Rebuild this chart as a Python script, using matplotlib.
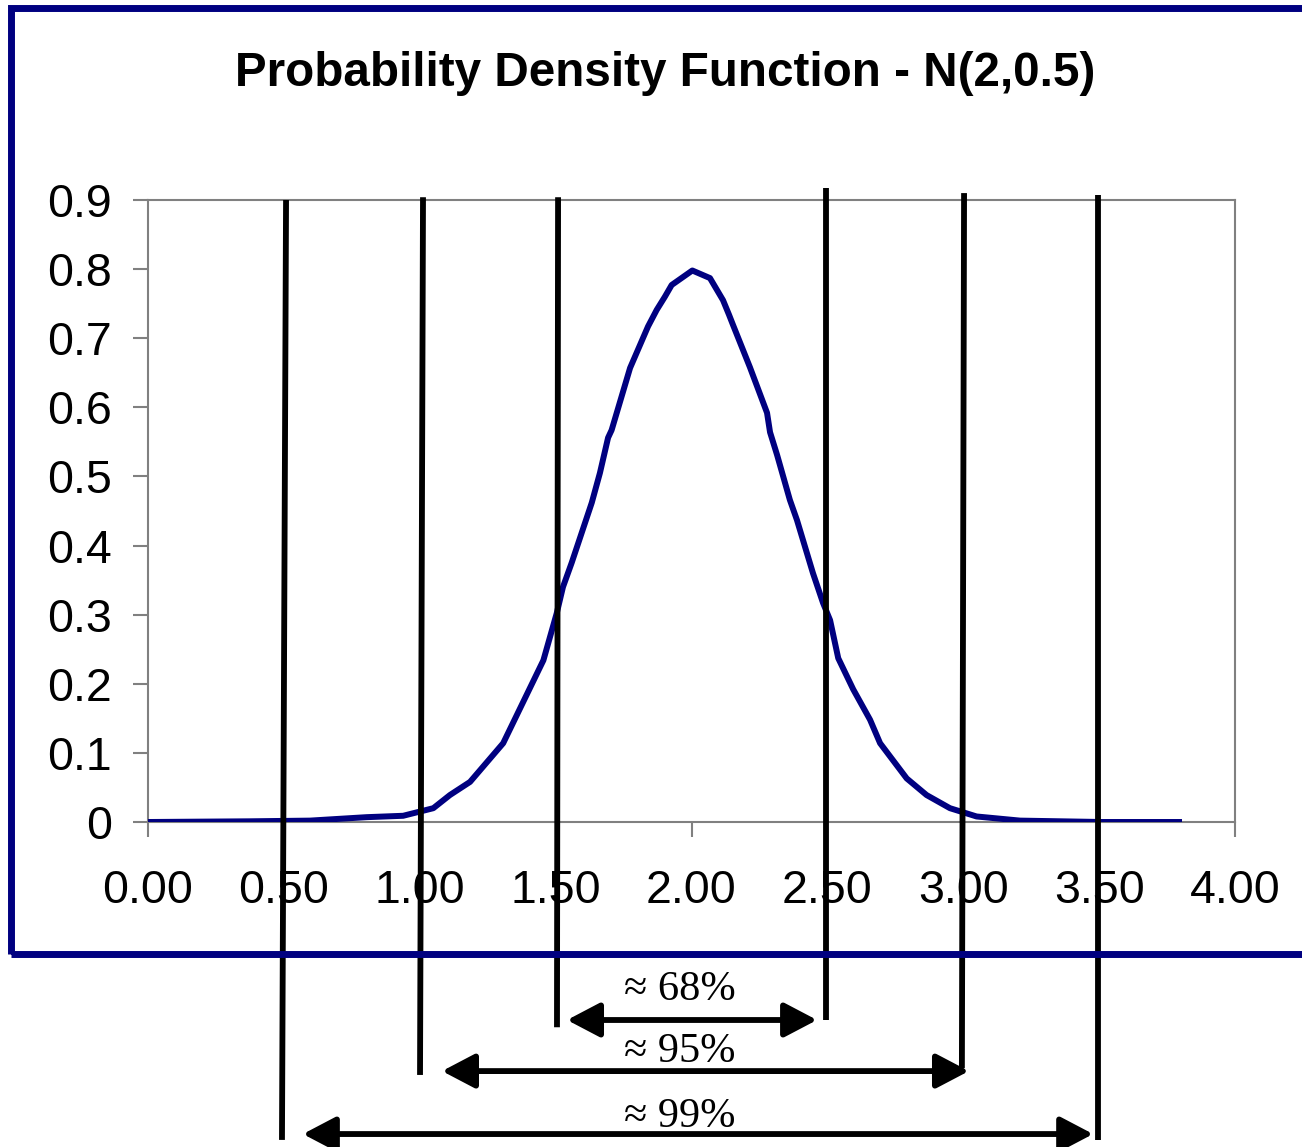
import matplotlib
matplotlib.use('Agg')
import matplotlib.pyplot as plt
from matplotlib.patches import FancyArrowPatch, Rectangle, ArrowStyle
from matplotlib.lines import Line2D

# ---- data ----
x_vals = [0.000, 0.375, 0.596, 0.805, 0.939, 1.050, 1.111, 1.185, 1.307, 1.381,
          1.455, 1.504, 1.527, 1.559, 1.633, 1.663, 1.693, 1.706, 1.774, 1.840,
          1.872, 1.902, 1.927, 2.003, 2.068, 2.116, 2.138, 2.153, 2.215, 2.278,
          2.289, 2.315, 2.362, 2.388, 2.447, 2.484, 2.510, 2.540, 2.595, 2.657,
          2.694, 2.792, 2.865, 2.951, 3.049, 3.209, 3.509, 3.805]
pdf_vals = [0.000, 0.001, 0.002, 0.007, 0.009, 0.020, 0.039, 0.058, 0.114, 0.174,
            0.234, 0.302, 0.340, 0.375, 0.462, 0.505, 0.556, 0.567, 0.657, 0.717,
            0.741, 0.760, 0.777, 0.798, 0.787, 0.755, 0.734, 0.719, 0.658, 0.592,
            0.564, 0.531, 0.466, 0.437, 0.360, 0.317, 0.292, 0.237, 0.192, 0.148,
            0.114, 0.063, 0.039, 0.020, 0.008, 0.002, 0.000, 0.000]

x_ticks = [0.0, 0.5, 1.0, 1.5, 2.0, 2.5, 3.0, 3.5, 4.0]
x_tick_labels = ['0.00', '0.50', '1.00', '1.50', '2.00', '2.50', '3.00', '3.50', '4.00']
y_ticks = [0.0, 0.1, 0.2, 0.3, 0.4, 0.5, 0.6, 0.7, 0.8, 0.9]
y_tick_labels = ['0', '0.1', '0.2', '0.3', '0.4', '0.5', '0.6', '0.7', '0.8', '0.9']

title_text = 'Probability Density Function - N(2,0.5)'

# hand-drawn sigma boundary lines (x at top / bottom, y at top / bottom)
bound_x_top = [0.508, 1.012, 1.509, 2.495, 3.003, 3.496]
bound_x_bot = [0.493, 1.001, 1.505, 2.495, 2.995, 3.496]
bound_y_top = [0.900, 0.904, 0.904, 0.917, 0.910, 0.907]
bound_y_bot = [-0.460, -0.366, -0.297, -0.287, -0.356, -0.460]

# coverage arrows
coverage_labels = ['\u2248 68%', '\u2248 95%', '\u2248 99%']
arrow_start = [1.542, 1.082, 0.570]
arrow_end = [2.462, 3.021, 3.478]
arrow_y = [-0.2865, -0.3604, -0.4515]
label_x = [1.958, 1.958, 1.958]
label_y = [-0.2576, -0.3469, -0.4410]

# ---- figure ----
W, H, DPI = 1302, 1147, 100
fig = plt.figure(figsize=(W / DPI, H / DPI), dpi=DPI)
fig.patch.set_facecolor('white')

navy = '#000080'
gray = '#808080'

ax = fig.add_axes([148 / W, 1 - 822 / H, (1235 - 148) / W, (822 - 200) / H])
ax.plot(x_vals, pdf_vals, color=navy, lw=4.3, solid_joinstyle='round',
        solid_capstyle='butt', zorder=3)
ax.set_xlim(0, 4)
ax.set_ylim(0, 0.9)
ax.set_xticks(x_ticks)
ax.set_xticklabels(x_tick_labels)
ax.set_yticks(y_ticks)
ax.set_yticklabels(y_tick_labels)
for s in ax.spines.values():
    s.set_color(gray)
    s.set_linewidth(1.5)
ax.tick_params(axis='both', direction='out', length=10.8, width=1.5, color=gray,
               labelsize=33.5, labelcolor='black')
ax.tick_params(axis='y', pad=15)
ax.tick_params(axis='x', pad=23)
for lab in ax.get_xticklabels() + ax.get_yticklabels():
    lab.set_fontfamily(['Liberation Sans', 'DejaVu Sans'])

fig.text(665 / W, 1 - 74 / H, title_text, ha='center', va='center',
         fontsize=34.3, fontweight='bold', family=['Liberation Sans', 'DejaVu Sans'])

# navy frame around chart
frame = Rectangle((10.7 / W, 1 - 954 / H), 1.2, (954 - 7.5) / H,
                  transform=fig.transFigure, fill=False, edgecolor=navy,
                  linewidth=5.0, zorder=1, clip_on=False)
fig.patches.append(frame)

# sigma boundary lines
for xt, xb, yt, yb in zip(bound_x_top, bound_x_bot, bound_y_top, bound_y_bot):
    ln = Line2D([xt, xb], [yt, yb], color='black', lw=4.2, solid_capstyle='butt',
                transform=ax.transData, clip_on=False, zorder=10)
    ax.add_line(ln)

# coverage arrows and labels
style = ArrowStyle('<|-|>', head_length=20, head_width=10.5)
for xs, xe, ya, lab, lx, ly in zip(arrow_start, arrow_end, arrow_y,
                                   coverage_labels, label_x, label_y):
    arr = FancyArrowPatch((xs, ya), (xe, ya), arrowstyle=style, mutation_scale=1,
                          color='black', lw=4.2, shrinkA=0, shrinkB=0,
                          transform=ax.transData, clip_on=False, zorder=10)
    ax.add_patch(arr)
    ax.text(lx, ly, lab, ha='center', va='baseline', fontsize=30.5,
            family=['Liberation Serif', 'DejaVu Serif'], clip_on=False, zorder=10)

fig.savefig('out.png', dpi=DPI)
